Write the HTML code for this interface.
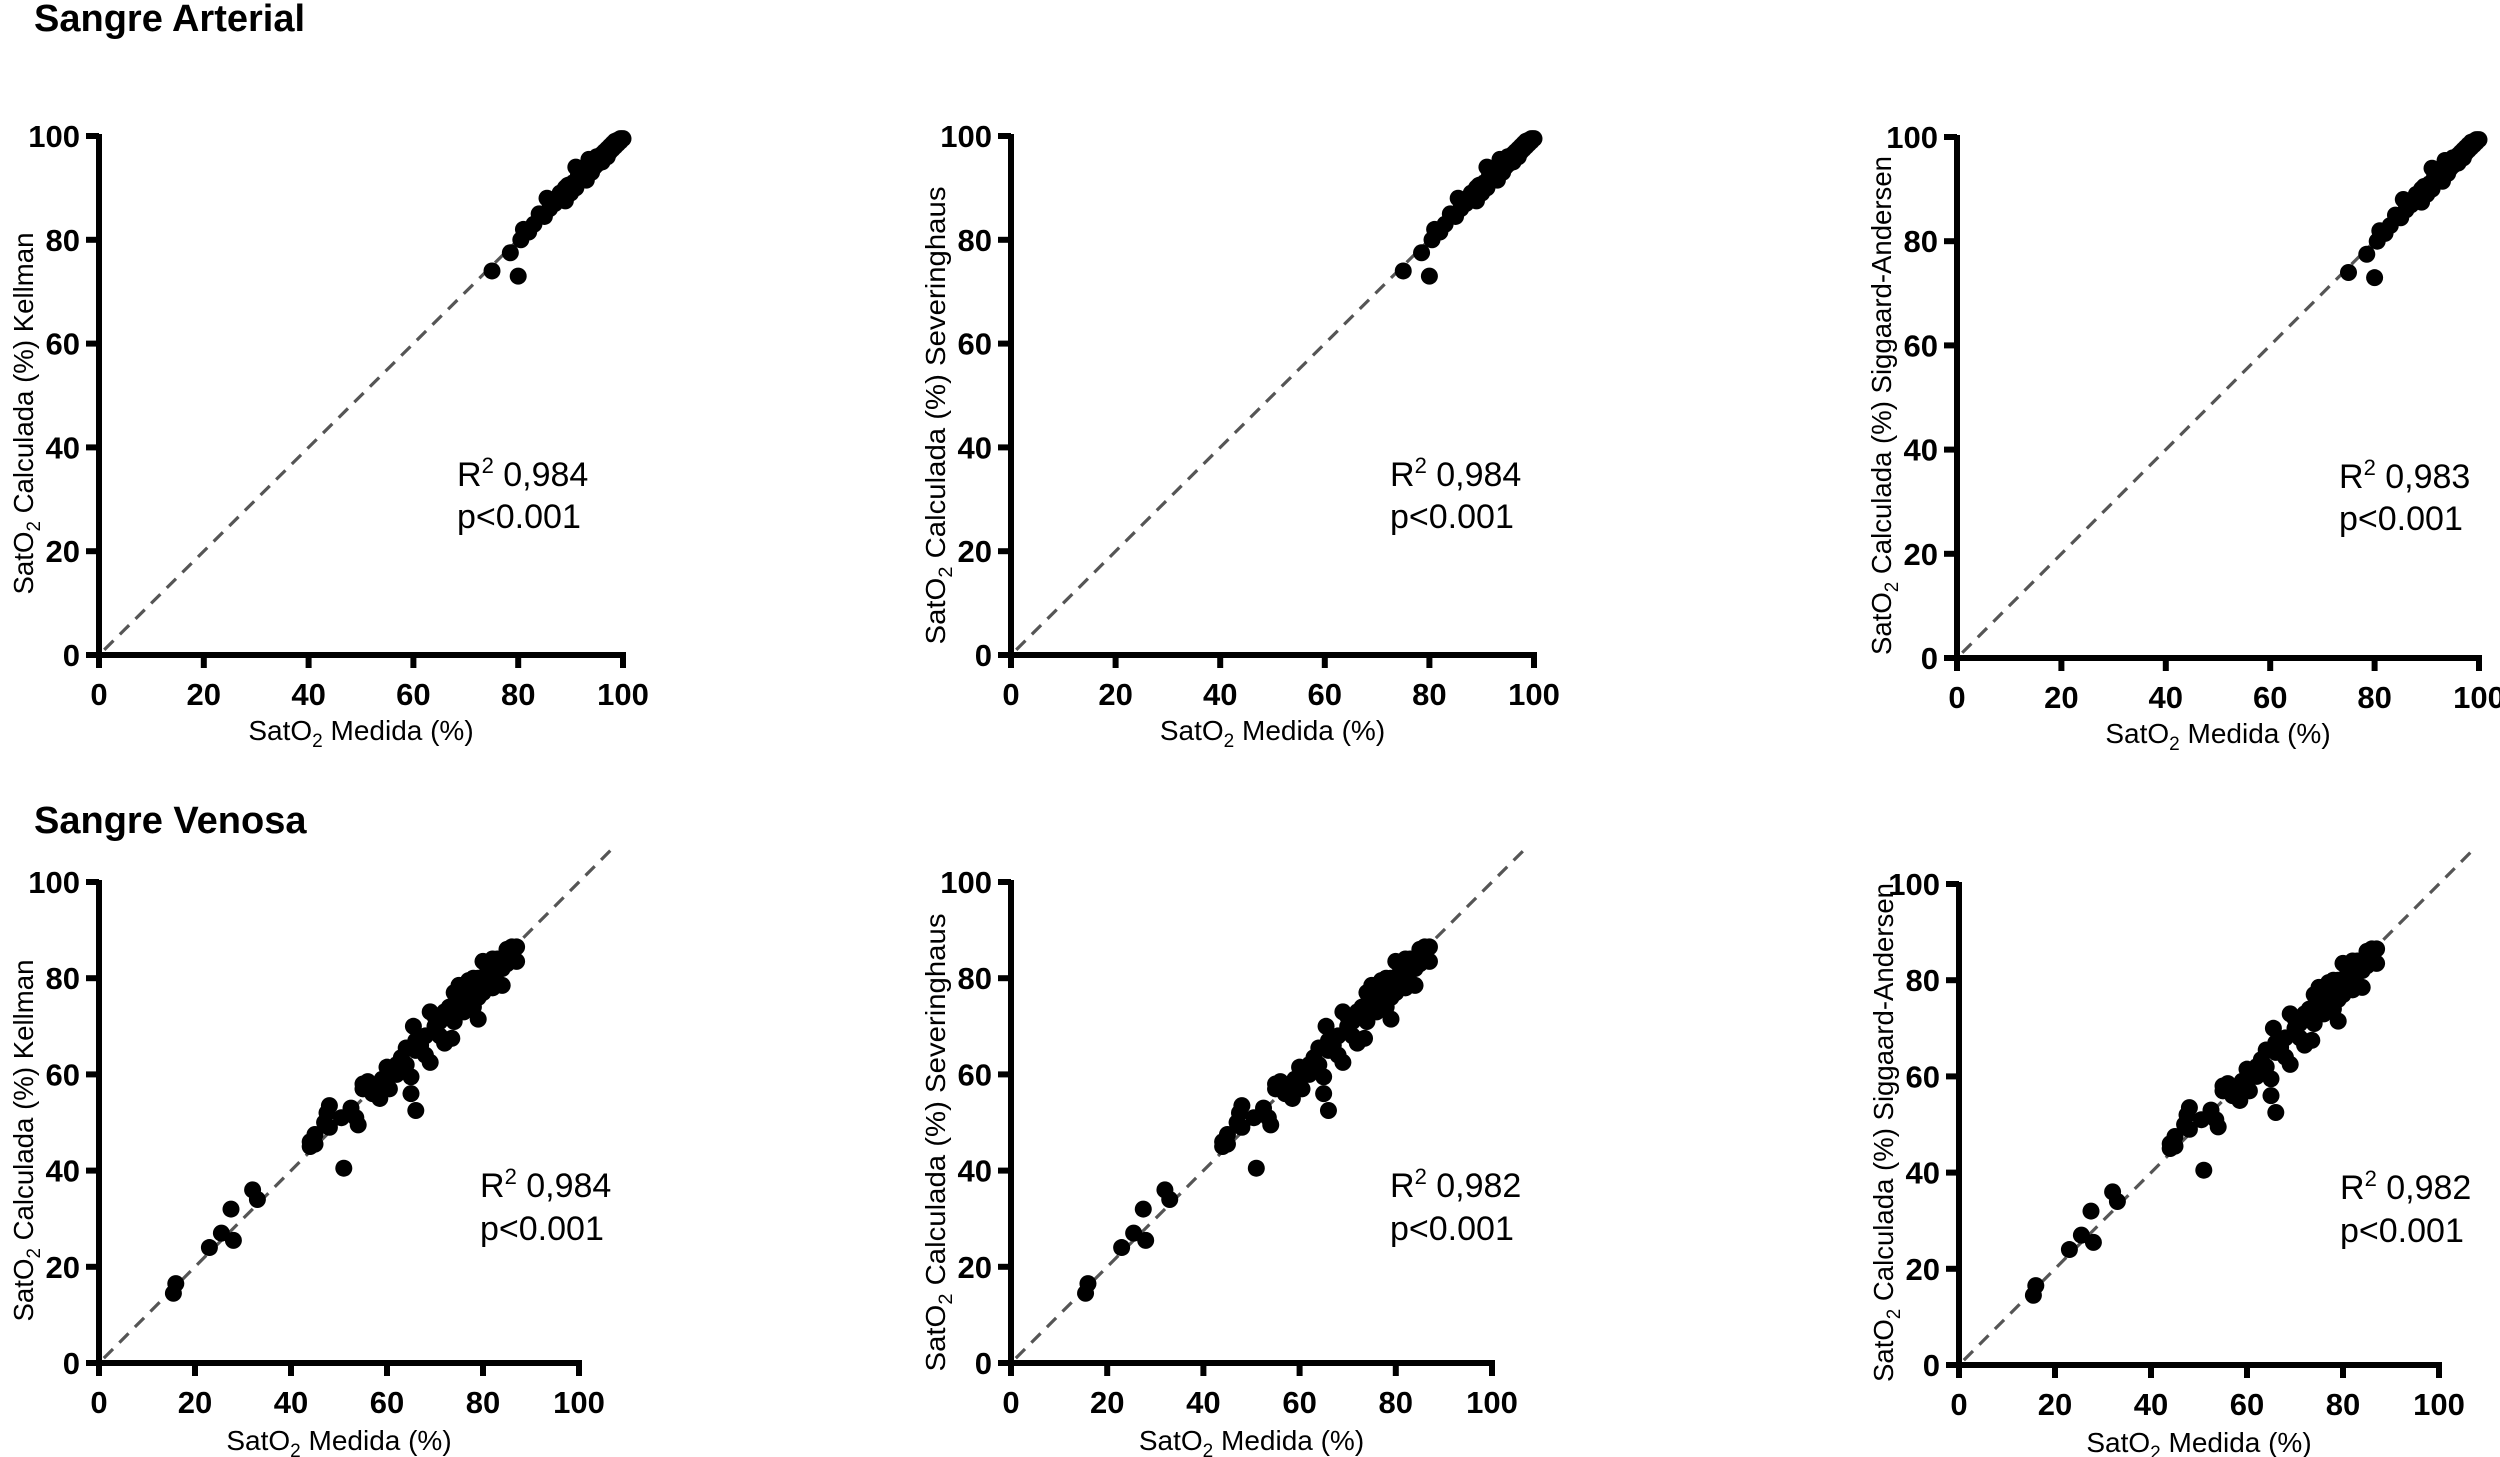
<!DOCTYPE html>
<html><head><meta charset="utf-8"><style>
html,body{margin:0;padding:0;background:#fff;}
svg{display:block;font-family:"Liberation Sans",sans-serif;}
</style></head><body>
<svg id="fig" width="2500" height="1457" viewBox="0 0 2500 1457" xmlns="http://www.w3.org/2000/svg">
<text x="34" y="31" font-size="38" font-weight="bold">Sangre Arterial</text>
<text x="34" y="833" font-size="38" font-weight="bold">Sangre Venosa</text>
</svg>
<script>
const tickValues = [0, 20, 40, 60, 80, 100];
const methods = ["Kellman", "Severinghaus", "Siggaard-Andersen"];
const titleLengths = [362, 458, 499];
const titleShift = [18, 20, 8];
const arterialR2 = ["0,984", "0,984", "0,983"];
const venousR2 = ["0,984", "0,982", "0,982"];
const arterialX = [75,78.5,80,80.5,81,83,84,85,85.5,86,87,88,89,89.5,90,91,91,92,93,93.5,94,95,95,96,96.5,97,97.5,98,98.5,99,99.5,100,92.5,94.5,90.5,88.5,86.5,96,97,98,99,82,87.5,91.5,95.5,89,90,93,94,95.5,96.5,97.5,98.5,99.5];
const arterialY = [74,77.5,73,80,82,83,85,84.5,88,86,87,89,87.5,90.5,89,94,90,92,91.5,95.5,93,94.5,96,95,97,96,98,97.5,99,98.5,99.5,99.5,93,94,91,88,87.5,96.5,97.5,98.5,99.2,81.5,88,92.5,95,90,90,93.5,95,95.5,96,97,98,99];
const venousX = [15.5,16,23,25.5,27.5,28,32,33,44,44,45,45,47,47.5,48,48,51,50.5,52.5,53.5,54,55,55,56,57,58.5,60,60.5,61,62,63,64,64,65,65,65.5,66,66,67,68,69,69,70,71,72,72,73,73.5,74,74,75,76,77,77,78,78,79,79,80,80,81,81,82,83,83,84,84,85,86,86,87,87,58,59,62,66,68,70,71,75,76,78,80,82,74,76,79,82,85];
const venousY = [14.5,16.5,24,27,32,25.5,36,34,45,46,47.5,45.5,50,52,53.5,49,40.5,51,53,51,49.5,57,58,58.5,56,55,61.5,57,60,60,63.5,62,65.5,56,59.5,70,52.5,65,66,64,62.5,73,70,71,66.5,73,74,67.5,77,71,78.5,73,79.5,76,74,77,71.5,80,83.5,77,82,78,80,84,79,78.5,82,86,84,86.5,83.5,86.5,57,59,62,67,68,72,68,75,76,80,79,84,73,74,76,78,83];

const svg = document.getElementById('fig');
const NS = 'http://www.w3.org/2000/svg';
function mk(tag, attrs, parent){
  const e = document.createElementNS(NS, tag);
  for (const k in attrs) e.setAttribute(k, attrs[k]);
  parent.appendChild(e);
  return e;
}
const panels = [
  {row:'arterial', i:0, x0:99, x1:623, yT:136, yB:655, lineMax:100, rx:457, ry:486, py:528, xt:730, xs:arterialX, ys:arterialY, r2:arterialR2[0]},
  {row:'arterial', i:1, x0:1011, x1:1534, yT:136, yB:655, lineMax:100, rx:1390, ry:486, py:528, xt:730, xs:arterialX, ys:arterialY, r2:arterialR2[1]},
  {row:'arterial', i:2, x0:1957, x1:2479, yT:137, yB:658, lineMax:100, rx:2339, ry:488, py:530, xt:733, xs:arterialX, ys:arterialY, r2:arterialR2[2]},
  {row:'venous', i:0, x0:99, x1:579, yT:882, yB:1363, lineMax:107.5, rx:480, ry:1197, py:1240, xt:1440, xs:venousX, ys:venousY, r2:venousR2[0]},
  {row:'venous', i:1, x0:1011, x1:1492, yT:882, yB:1363, lineMax:107.5, rx:1390, ry:1197, py:1240, xt:1440, xs:venousX, ys:venousY, r2:venousR2[1]},
  {row:'venous', i:2, x0:1959, x1:2439, yT:884, yB:1365, lineMax:107.5, rx:2340, ry:1199, py:1242, xt:1442, xs:venousX, ys:venousY, r2:venousR2[2]}
];
panels.forEach(p => {
  const g = mk('g', {}, svg);
  
  
  const sx = v => p.x0 + (p.x1 - p.x0) * v / 100;
  const sy = v => p.yB - (p.yB - p.yT) * v / 100;
  const dl = mk('line', {x1:sx(1), y1:sy(1), x2:sx(p.lineMax), y2:sy(p.lineMax), stroke:'#555', 'stroke-width':3.2, 'stroke-dasharray':'13 9'}, g);
  
  
  for (let k = 0; k < p.xs.length; k++) {
    const c = mk('circle', {cx:sx(p.xs[k]), cy:sy(p.ys[k]), r:8.5, fill:'#000'}, g);
    
    
  }
  const ya = mk('line', {x1:p.x0, y1:p.yT-2, x2:p.x0, y2:p.yB+13, stroke:'#000', 'stroke-width':6}, g);
  
  
  const xa = mk('line', {x1:p.x0-13, y1:p.yB, x2:p.x1+3, y2:p.yB, stroke:'#000', 'stroke-width':6}, g);
  
  
  tickValues.forEach(t => {
    const xt = mk('line', {x1:sx(t), y1:p.yB, x2:sx(t), y2:p.yB+13, stroke:'#000', 'stroke-width':6}, g);
    
    
    const yt = mk('line', {x1:p.x0-13, y1:sy(t), x2:p.x0, y2:sy(t), stroke:'#000', 'stroke-width':6}, g);
    
    
    const xl = mk('text', {x:sx(t), y:p.yB+50, 'font-size':31, 'font-weight':'bold', 'text-anchor':'middle'}, g);
    xl.textContent = t;
    
    
    const yl = mk('text', {x:p.x0-19, y:sy(t)+11, 'font-size':31, 'font-weight':'bold', 'text-anchor':'end'}, g);
    yl.textContent = t;
    
    
  });
  const xtl = mk('text', {x:(p.x0+p.x1)/2, y:p.xt+10, 'font-size':28, 'text-anchor':'middle'}, g);
  xtl.innerHTML = 'SatO<tspan font-size="19" dy="7">2</tspan><tspan dy="-7"> Medida (%)</tspan>';
  
  
  const cx = p.x0 - 66, cy = (p.yT + p.yB) / 2 + titleShift[p.i];
  const L = titleLengths[p.i];
  const ytl = mk('text', {x:cx - L/2, y:cy, 'font-size':28, textLength:L, lengthAdjust:'spacingAndGlyphs', transform:'rotate(-90 '+cx+' '+cy+') translate(0 0)'}, g);
  ytl.setAttribute('x', cx - L/2);
  ytl.innerHTML = 'SatO<tspan font-size="19" dy="7">2</tspan><tspan dy="-7"> Calculada (%) ' + methods[p.i] + '</tspan>';
  
  
  const r2 = mk('text', {x:p.rx, y:p.ry, 'font-size':34}, g);
  r2.innerHTML = 'R<tspan font-size="22" dy="-13">2</tspan><tspan dy="13"> ' + p.r2 + '</tspan>';
  
  
  const pv = mk('text', {x:p.rx, y:p.py, 'font-size':34}, g);
  pv.textContent = 'p<0.001';
  
  
});
</script>
</body></html>
